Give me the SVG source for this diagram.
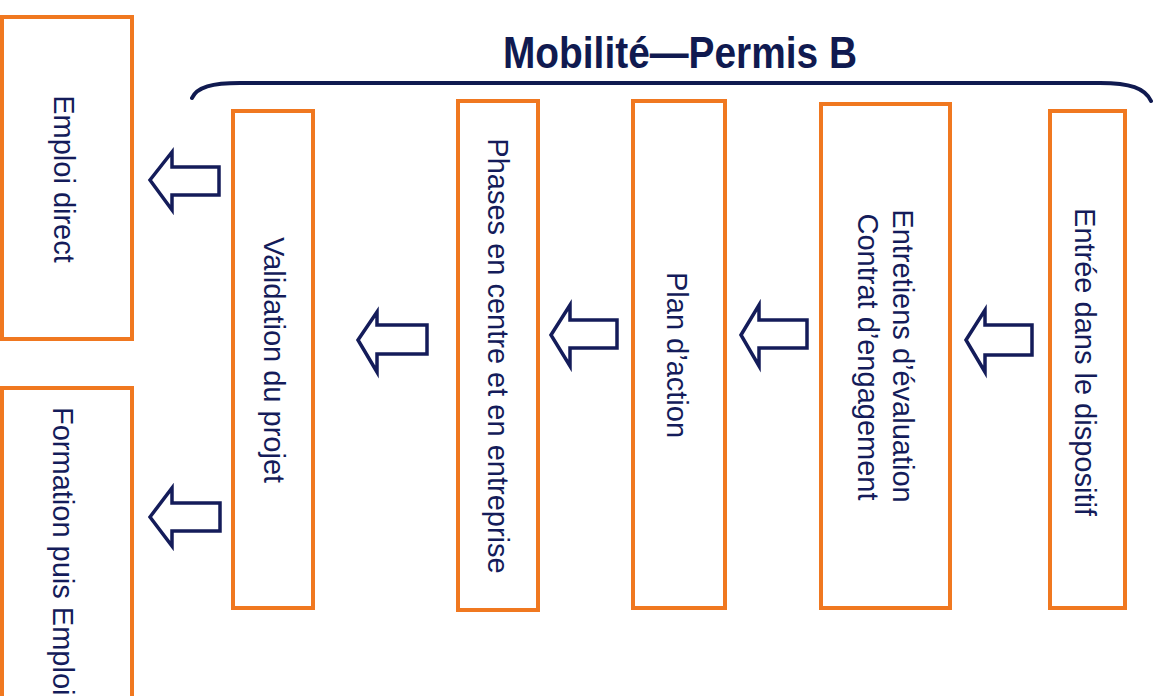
<svg xmlns="http://www.w3.org/2000/svg" width="1162" height="696" viewBox="0 0 1162 696">
<style>
.box{fill:#ffffff;stroke:#f07820;stroke-width:4}
.lbl{font-family:"Liberation Sans",Arial,sans-serif;font-size:29px;fill:#141c5a;text-anchor:middle}
.arr{fill:#ffffff;stroke:#141c5a;stroke-width:3.5;stroke-linejoin:miter}
.title{font-family:"Liberation Sans",Arial,sans-serif;font-size:44px;font-weight:bold;fill:#101a50}
</style>
<rect width="1162" height="696" fill="#ffffff"/>
<g id="title">
<text class="title" x="503" y="68" textLength="354" lengthAdjust="spacingAndGlyphs">Mobilité—Permis B</text>
<path d="M192,98 C197,87 212,83 240,83 L1100,83 C1130,83 1145,88 1151,101" fill="none" stroke="#101a50" stroke-width="4" stroke-linecap="round"/>
</g>
<g id="node-emploi-direct">
<rect class="box" x="2" y="17" width="130" height="322"/>
<text class="lbl" transform="translate(54,179) rotate(90)">Emploi direct</text>
</g>
<g id="node-formation">
<rect class="box" x="2" y="388" width="130" height="330"/>
<text class="lbl" style="text-anchor:start" transform="translate(53,407) rotate(90)">Formation puis Emploi</text>
</g>
<g id="node-validation">
<rect class="box" x="233" y="111" width="80" height="497"/>
<text class="lbl" transform="translate(264,360) rotate(90)">Validation du projet</text>
</g>
<g id="node-phases">
<rect class="box" x="458" y="101" width="80" height="509"/>
<text class="lbl" transform="translate(488,356) rotate(90)">Phases en centre et en entreprise</text>
</g>
<g id="node-plan">
<rect class="box" x="633" y="101" width="92" height="507"/>
<text class="lbl" transform="translate(667,355) rotate(90)">Plan d’action</text>
</g>
<g id="node-entretiens">
<rect class="box" x="821" y="104" width="129" height="504"/>
<text class="lbl" transform="translate(893,356) rotate(90)">Entretiens d’évaluation</text>
<text class="lbl" transform="translate(858,357) rotate(90)">Contrat d’engagement</text>
</g>
<g id="node-entree">
<rect class="box" x="1050" y="111" width="75" height="497"/>
<text class="lbl" transform="translate(1075,362) rotate(90)">Entrée dans le dispositif</text>
</g>
<g id="connectors">
<path class="arr" d="M150,180 L172,152 L172,167 L219,167 L219,195 L172,195 L172,210 Z"/>
<path class="arr" d="M150,517 L172,488 L172,503 L220,503 L220,531 L172,531 L172,546 Z"/>
<path class="arr" d="M358,340 L377,312 L377,325 L427,325 L427,354 L377,354 L377,372 Z"/>
<path class="arr" d="M551,335 L570,305 L570,320 L617,320 L617,348 L570,348 L570,366 Z"/>
<path class="arr" d="M741,335 L759,305 L759,320 L807,320 L807,348 L759,348 L759,366 Z"/>
<path class="arr" d="M966,340 L985,310 L985,325 L1032,325 L1032,355 L985,355 L985,372 Z"/>
</g>
</svg>
